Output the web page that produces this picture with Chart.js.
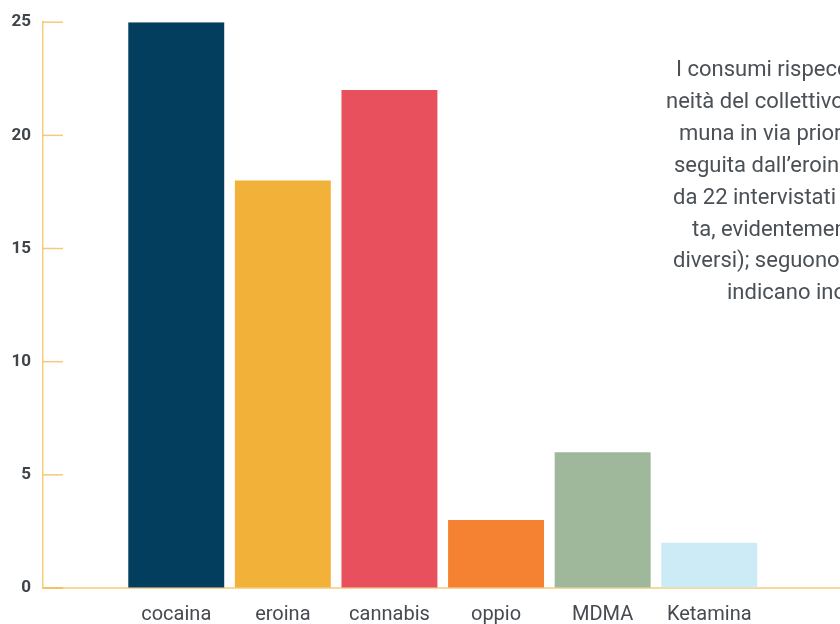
<!DOCTYPE html>
<html lang="it">
<head>
<meta charset="utf-8">
<title>Sostanze consumate</title>
<script src="https://cdn.jsdelivr.net/npm/chart.js@4/dist/chart.umd.min.js"></script>
<style>
  html, body { margin: 0; padding: 0; background: #fff; overflow: hidden; }
  #wrap { position: relative; width: 840px; height: 624px; }
  #note {
    position: absolute; left: 0; top: 0; width: 840px; height: 624px;
    pointer-events: none; font-family: Roboto, sans-serif; font-size: 22px;
    color: #4a5056; white-space: nowrap;
  }
  #note span { position: absolute; line-height: 32px; }
</style>
</head>
<body>
<div id="wrap">
  <canvas id="salesChart" width="840" height="624"></canvas>
  <div id="note"></div>
</div>
<script>
const categories = ["cocaina", "eroina", "cannabis", "oppio", "MDMA", "Ketamina"];
const intervistati = [25, 18, 22, 3, 6, 2];
const barColors = ["#043e5f", "#f2b138", "#e8505d", "#f48232", "#9fb89b", "#cdebf6"];
const yTicks = [0, 5, 10, 15, 20, 25];

// text beside the chart, cut by the right edge as in the original
const noteLines = [
  "I consumi rispecchiano l\u2019eteroge-",
  "neità del collettivo: la sostanza più co-",
  "muna in via prioritaria è la cocaina,",
  "seguita dall\u2019eroina e dalla cannabis, usata",
  "da 22 intervistati (la cannabis è considera-",
  "ta, evidentemente, una sostanza con effetti",
  "diversi); seguono MDMA, oppio e ketamina,",
  "indicano inoltre consumi occasionali."
];
const noteLeft = [676, 666, 679, 674, 673, 692, 673, 727];

function buildNote() {
  const box = document.getElementById("note");
  noteLines.forEach((t, i) => {
    const s = document.createElement("span");
    s.textContent = t;
    s.style.left = noteLeft[i] + "px";
    s.style.top = (53 + i * 31.9) + "px";
    box.appendChild(s);
  });
}

// short tick marks drawn into the plot from the y axis line
const inwardTicks = {
  id: "inwardTicks",
  afterDatasetsDraw(chart) {
    const y = chart.scales.y;
    const ctx = chart.ctx;
    ctx.save();
    ctx.strokeStyle = "rgba(240,168,40,0.62)";
    ctx.lineWidth = 1.5;
    yTicks.forEach((v) => {
      const py = y.getPixelForValue(v);
      ctx.beginPath();
      ctx.moveTo(y.right, py);
      ctx.lineTo(y.right + 20, py);
      ctx.stroke();
    });
    ctx.restore();
  }
};

function renderChart() {
  const canvas = document.getElementById("salesChart");
  const xMin = -1.25;
  const xMax = xMin + (840 - 43) / 106.6;

  new Chart(canvas, {
    type: "bar",
    data: {
      datasets: [{
        label: "intervistati",
        data: intervistati.map((v, i) => ({ x: i, y: v })),
        backgroundColor: barColors,
        borderWidth: 0,
        categoryPercentage: 1,
        barPercentage: 0.9
      }]
    },
    options: {
      responsive: false,
      animation: false,
      layout: { padding: { top: 21, right: 0, bottom: 0, left: 0 } },
      plugins: { legend: { display: false }, tooltip: { enabled: false } },
      scales: {
        x: {
          type: "linear",
          min: xMin,
          max: xMax,
          offset: false,
          afterFit: (s) => { s.height = 36; s.paddingRight = 0; },
          grid: { display: true, offset: false, drawOnChartArea: false, drawTicks: false },
          border: { color: "#f7d898", width: 2 },
          ticks: {
            stepSize: 1,
            includeBounds: false,
            autoSkip: false,
            maxRotation: 0,
            padding: 15,
            color: "#454b51",
            font: { family: "Roboto", size: 20 },
            callback: (v) => categories[v] || ""
          }
        },
        y: {
          min: 0,
          max: 25,
          afterFit: (s) => { s.width = 43; },
          grid: { display: true, drawOnChartArea: false, drawTicks: false },
          border: { color: "#f7cd7c", width: 1.5 },
          ticks: {
            stepSize: 5,
            padding: 12,
            color: "#3e444a",
            font: { family: "Roboto", size: 17, weight: "bold" }
          }
        }
      }
    },
    plugins: [inwardTicks]
  });
}

document.addEventListener("DOMContentLoaded", () => {
  buildNote();
  renderChart();
});
</script>
</body>
</html>
